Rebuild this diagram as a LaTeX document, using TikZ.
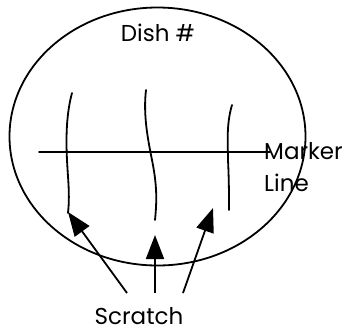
\documentclass[tikz,border=0pt]{standalone}
\usepackage{fontspec}
\setmainfont{Poppins}
\usetikzlibrary{arrows.meta,shapes.geometric}
\tikzset{
  dish/.style={draw=black, line width=1.8pt},
  scratchline/.style={draw=black, line width=1.8pt, line cap=round},
  pointer/.style={draw=black, line width=1.8pt, -{Triangle[length=24pt,width=18pt]}},
  lbl/.style={font=\fontsize{23}{25}\selectfont, inner sep=0pt},
}
\begin{document}
\begin{tikzpicture}[x=1pt,y=-1pt]
\useasboundingbox (0,0) rectangle (351,333);
\node[dish, ellipse, minimum width=296pt, minimum height=258pt, inner sep=0pt] (plate) at (157.5,136.5) {};
\node[lbl] (dish) at (158,33) {Dish \#};
\node[lbl, anchor=west] (marker) at (264,151) {Marker};
\node[lbl, anchor=west] (line) at (264,183) {Line};
\coordinate (ml) at (39,152);
\coordinate (mr) at (270,152);
\draw[scratchline] (ml) -- (mr);
\draw[scratchline] (72,93) .. controls (66,115) and (66,140) .. (67,160) .. controls (68,180) and (70,195) .. (68,213);
\draw[scratchline] (146,90) .. controls (143,115) and (148,140) .. (152,160) .. controls (157,185) and (157,200) .. (155,220);
\draw[scratchline] (232,105) .. controls (226,125) and (228,145) .. (228,160) .. controls (229,180) and (229,195) .. (229,210);
\node[lbl, anchor=base] (scratch) at (139,324) {Scratch};
\coordinate (t1) at (127,293);
\coordinate (t2) at (155,293);
\coordinate (t3) at (183,293);
\coordinate (h1) at (68,212);
\coordinate (h2) at (155,235);
\coordinate (h3) at (213,208);
\draw[pointer] (t1) -- (h1);
\draw[pointer] (t2) -- (h2);
\draw[pointer] (t3) -- (h3);
\end{tikzpicture}
\end{document}
